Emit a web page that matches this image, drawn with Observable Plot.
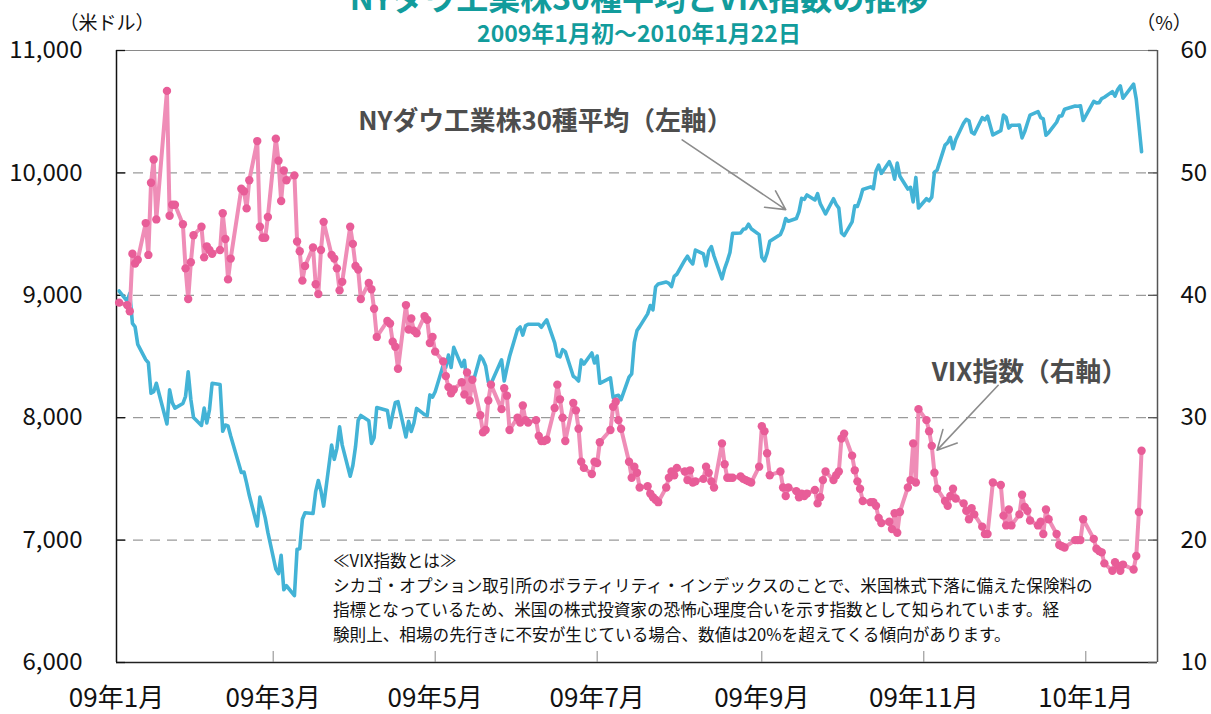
<!DOCTYPE html>
<html><head><meta charset="utf-8">
<script src="https://cdn.jsdelivr.net/npm/d3@7"></script>
<script src="https://cdn.jsdelivr.net/npm/@observablehq/plot@0.6"></script>
<style>
body{margin:0;background:#fff;}
#wrap{position:relative;width:1211px;height:714px;overflow:hidden;font-family:"Noto Sans CJK JP",sans-serif;}
#wrap > svg{position:absolute;left:0;top:0;}
</style></head><body><div id="wrap"></div>
<script>
// ---- Data (daily closes, trading days per month) ----
const months = ["2009-01","2009-02","2009-03","2009-04","2009-05","2009-06","2009-07","2009-08","2009-09","2009-10","2009-11","2009-12","2010-01"];
const holidays = ["2009-01-01","2009-01-19","2009-02-16","2009-04-10","2009-05-25","2009-07-03","2009-09-07","2009-11-26","2009-12-25","2010-01-01","2010-01-18"];

const dowJan09 = [9035,8953,9015,8770,8742,8599,8474,8449,8200,8212,8281,7949,8228,8123,8078,8116,8175,8375,8149,8001];
const dowFeb09 = [7937,8078,7957,8063,8281,8271,7889,7940,7933,7850,7553,7556,7466,7366,7115,7351,7271,7182,7063];
const dowMar09 = [6763,6726,6876,6594,6627,6547,6926,6930,7170,7224,7217,7396,7487,7401,7278,7776,7660,7750,7925,7776,7522,7609];
const dowApr09 = [7762,7978,8018,7976,7790,7837,8083,8058,7920,8030,8125,8131,7842,7970,7887,7957,8076,8025,8017,8186,8168];
const dowMay09 = [8212,8427,8411,8512,8410,8575,8419,8469,8285,8331,8269,8504,8475,8422,8292,8277,8473,8300,8404,8500];
const dowJun09 = [8721,8741,8675,8750,8763,8764,8763,8739,8771,8799,8612,8505,8497,8556,8540,8339,8323,8300,8472,8438,8529,8447];
const dowJul09 = [8504,8281,8325,8164,8178,8183,8147,8332,8359,8616,8712,8744,8848,8916,8881,9069,9093,9109,9097,9071,9154,9172];
const dowAug09 = [9287,9320,9281,9256,9370,9338,9241,9362,9398,9321,9135,9218,9279,9350,9506,9509,9539,9544,9581,9544,9496];
const dowSep09 = [9311,9281,9345,9441,9497,9547,9627,9605,9627,9683,9792,9784,9820,9779,9830,9749,9707,9665,9789,9742,9712];
const dowOct09 = [9509,9488,9600,9731,9726,9787,9865,9886,9871,10016,10063,9996,10092,10041,9949,10081,9972,9868,9882,9763,9963,9713];
const dowNov09 = [9789,9772,9802,10006,10023,10227,10247,10291,10197,10270,10407,10437,10426,10332,10318,10451,10434,10464,10310,10345];
const dowDec09 = [10472,10453,10366,10389,10390,10286,10337,10406,10472,10501,10452,10441,10308,10329,10414,10465,10466,10520,10547,10545,10549,10428];
const dowJan10 = [10584,10572,10574,10607,10618,10664,10627,10681,10711,10610,10725,10603,10390,10173];

const vixJan09 = [39.4,39.2,38.7,43.4,42.6,42.9,45.9,43.3,49.2,51.1,46.2,56.7,46.5,47.4,47.4,45.8,42.2,39.7,42.7,44.9];
const vixFeb09 = [45.6,43.1,44.0,43.7,43.4,43.7,46.7,44.6,41.3,43.0,48.7,48.5,47.1,49.4,52.6,45.6,44.7,44.7,46.4];
const vixMar09 = [52.8,51.0,47.7,50.2,49.4,49.8,44.4,43.6,41.2,42.4,43.9,40.9,40.1,43.7,46.0,43.3,43.0,42.2,40.4,41.1,45.6,44.2];
const vixApr09 = [42.4,42.1,39.7,41.0,40.5,38.9,36.6,37.9,37.7,36.2,35.8,34.0,39.2,37.2,38.1,37.1,36.9,38.3,38.0,36.1,36.6];
const vixMay09 = [35.4,34.6,33.4,32.5,32.0,32.3,32.9,31.9,33.7,31.4,33.1,30.2,28.8,29.0,31.4,32.7,30.7,32.4,31.8,29.0];
const vixJun09 = [30.0,29.6,31.0,29.8,29.6,29.8,28.5,28.1,28.1,28.2,30.8,32.7,31.5,30.0,28.1,31.2,30.6,29.1,26.4,25.9,25.4,26.4];
const vixJul09 = [26.3,28.0,29.0,30.9,31.3,29.8,29.1,26.4,25.1,26.0,25.5,24.3,24.4,23.8,23.5,23.3,23.1,24.3,25.1,25.6,25.3,25.9];
const vixAug09 = [25.6,24.9,25.7,24.7,24.8,25.0,26.0,25.5,24.8,24.3,27.9,26.2,25.1,25.1,25.1,25.2,25.0,24.9,24.8,24.7,26.0];
const vixSep09 = [29.3,28.9,27.1,25.3,25.6,24.3,23.6,24.3,24.0,23.5,23.8,23.6,23.8,24.1,23.0,23.5,24.9,25.6,24.9,25.3,25.6];
const vixOct09 = [28.3,28.7,26.9,25.7,24.8,24.2,23.2,23.1,23.1,22.8,21.8,21.4,21.5,20.9,22.2,20.6,22.3,24.3,24.9,27.9,24.7,30.7];
const vixNov09 = [29.8,28.9,27.7,25.5,24.2,23.2,22.8,23.6,24.2,23.4,23.0,22.4,21.7,22.6,22.1,21.1,20.5,20.5,24.7,24.5];
const vixDec09 = [22.0,21.2,22.5,21.2,22.1,23.7,22.7,22.4,21.6,21.2,21.5,20.5,22.5,21.7,20.5,19.6,19.5,19.4,20.0,20.0,20.0,21.7];
const vixJan10 = [20.1,19.3,19.1,19.0,18.1,17.5,18.2,17.9,17.5,18.0,17.6,18.7,22.3,27.3];

const dowByMonth = [dowJan09,dowFeb09,dowMar09,dowApr09,dowMay09,dowJun09,dowJul09,dowAug09,dowSep09,dowOct09,dowNov09,dowDec09,dowJan10];
const vixByMonth = [vixJan09,vixFeb09,vixMar09,vixApr09,vixMay09,vixJun09,vixJul09,vixAug09,vixSep09,vixOct09,vixNov09,vixDec09,vixJan10];

// Axis ticks
const leftTicks = [6000,7000,8000,9000,10000,11000];
const rightTickLabels = ["10","20","30","40","50","60"];
const xTickDates = ["2009-01-01","2009-03-01","2009-05-01","2009-07-01","2009-09-01","2009-11-01","2010-01-01"];
const xTickLabels = ["09年1月","09年3月","09年5月","09年7月","09年9月","09年11月","10年1月"];

// Annotations
const noteLabels = [
  {date:"2009-04-02", value:10417, text:"NYダウ工業株30種平均（左軸）"},
  {date:"2009-11-04", value:8368, text:"VIX指数（右軸）"}
];
const noteArrows = [
  {d1:"2009-08-02", v1:10270, d2:"2009-09-10", v2:9700},
  {d1:"2009-11-29", v1:8265, d2:"2009-11-06", v2:7735}
];

// ---- Build rows ----
function tradingDays(key){
  const [y,m] = key.split("-").map(Number);
  const out = []; const d = new Date(Date.UTC(y,m-1,1));
  while (d.getUTCMonth() === m-1){
    const wd = d.getUTCDay(); const iso = d.toISOString().slice(0,10);
    if (wd !== 0 && wd !== 6 && !holidays.includes(iso)) out.push(new Date(d));
    d.setUTCDate(d.getUTCDate()+1);
  }
  return out;
}
const rows = [];
months.forEach((key,i) => {
  const days = tradingDays(key);
  dowByMonth[i].forEach((v,j) => rows.push({date: days[j], dow: v, vix: vixByMonth[i][j]}));
});

// right axis (VIX %) mapped onto the left scale: 10% ↔ 6,000, 60% ↔ 11,000
const vixOnLeft = v => 6000 + (v - 10) * 100;
const rightLabelOf = new Map(leftTicks.map((t,i) => [t, rightTickLabels[i]]));
const xTicks = xTickDates.map(s => new Date(s + "T00:00:00Z"));
const xLabelOf = new Map(xTicks.map((d,i) => [+d, xTickLabels[i]]));
const commaFmt = d3.format(",");

const W = 1211, H = 714, mL = 116, mR = 54, mT = 50, mB = 52;
const fw = W - mL - mR, fh = H - mT - mB;
const xDomain = [new Date(Date.UTC(2009,0,1)), new Date(Date.UTC(2010,0,28))];

const chart = Plot.plot({
  width: W, height: H, marginLeft: mL, marginRight: mR, marginTop: mT, marginBottom: mB,
  x: {type: "utc", domain: xDomain},
  y: {domain: [6000, 11000]},
  style: {fontFamily: "'Noto Sans CJK JP', sans-serif", color: "#111", background: "transparent", overflow: "visible"},
  marks: [
    Plot.ruleY(leftTicks.slice(1,-1), {stroke: "#9a9a9a", strokeWidth: 1.2, strokeDasharray: "10,7"}),
    Plot.ruleY([11000], {stroke: "#8a8a8a", strokeWidth: 1.2}),
    Plot.ruleX([xDomain[1]], {stroke: "#555", strokeWidth: 1.5}),
    Plot.ruleX([xDomain[0]], {stroke: "#111", strokeWidth: 1.5}),
    Plot.ruleY([6000], {stroke: "#222", strokeWidth: 1.5}),
    Plot.ruleY(leftTicks, {stroke: "#111", strokeWidth: 1.3, insetRight: fw - 9}),
    Plot.ruleY(leftTicks, {stroke: "#555", strokeWidth: 1.3, insetLeft: fw - 9}),
    Plot.ruleX(xTicks.slice(1), {stroke: "#888", strokeWidth: 1, insetTop: fh - 11}),
    Plot.line(rows, {x: "date", y: "dow", stroke: "#43b3d6", strokeWidth: 3.6, strokeLinejoin: "round"}),
    Plot.line(rows, {x: "date", y: d => vixOnLeft(d.vix), stroke: "#ef8db7", strokeWidth: 4, strokeLinejoin: "round"}),
    Plot.dot(rows, {x: "date", y: d => vixOnLeft(d.vix), r: 4.2, fill: "#e85d98"}),
    Plot.axisY(leftTicks, {anchor: "left", tickSize: 0, tickPadding: 34, fontSize: 24, tickFormat: d => commaFmt(d), label: null}),
    Plot.axisY(leftTicks, {anchor: "right", tickSize: 0, tickPadding: 23, fontSize: 24, tickFormat: d => rightLabelOf.get(d), label: null}),
    Plot.axisX(xTicks, {anchor: "bottom", tickSize: 0, tickPadding: 26, fontSize: 26, tickFormat: d => xLabelOf.get(+d), label: null}),
    Plot.arrow(noteArrows, {x1: d => new Date(d.d1), y1: "v1", x2: d => new Date(d.d2), y2: "v2", stroke: "#8c8c8c", strokeWidth: 1.6, headLength: 20, headAngle: 55}),
    Plot.text(noteLabels, {x: d => new Date(d.date), y: "value", text: "text", textAnchor: "start", fontSize: 25.8, fontWeight: "bold", fill: "#4d4d4d"})
  ]
});
document.getElementById("wrap").appendChild(chart);

// ---- Titles, units and the explanatory note ----
const ov = d3.select("#wrap").append("svg").attr("width", W).attr("height", H)
  .style("font-family", "'Noto Sans CJK JP', sans-serif").style("pointer-events", "none");
ov.append("text").attr("x", 639).attr("y", 10).attr("text-anchor", "middle")
  .attr("font-size", 32).attr("font-weight", "bold").attr("fill", "#129c9c").text("NYダウ工業株30種平均とVIX指数の推移");
ov.append("text").attr("x", 639).attr("y", 42).attr("text-anchor", "middle")
  .attr("font-size", 23).attr("font-weight", "bold").attr("fill", "#129c9c").text("2009年1月初～2010年1月22日");
ov.append("text").attr("x", 107).attr("y", 30).attr("text-anchor", "middle").attr("font-size", 19).attr("fill", "#111").text("（米ドル）");
ov.append("text").attr("x", 1164).attr("y", 30).attr("text-anchor", "middle").attr("font-size", 19).attr("fill", "#111").text("（%）");
const noteLines = [
  "≪VIX指数とは≫",
  "シカゴ・オプション取引所のボラティリティ・インデックスのことで、米国株式下落に備えた保険料の",
  "指標となっているため、米国の株式投資家の恐怖心理度合いを示す指数として知られています。経",
  "験則上、相場の先行きに不安が生じている場合、数値は20%を超えてくる傾向があります。"
];
noteLines.forEach((t,i) => {
  ov.append("text").attr("x", 333).attr("y", 567 + i*24.5).attr("font-size", 16.6).attr("fill", "#111").text(t);
});
</script>
</body></html>
